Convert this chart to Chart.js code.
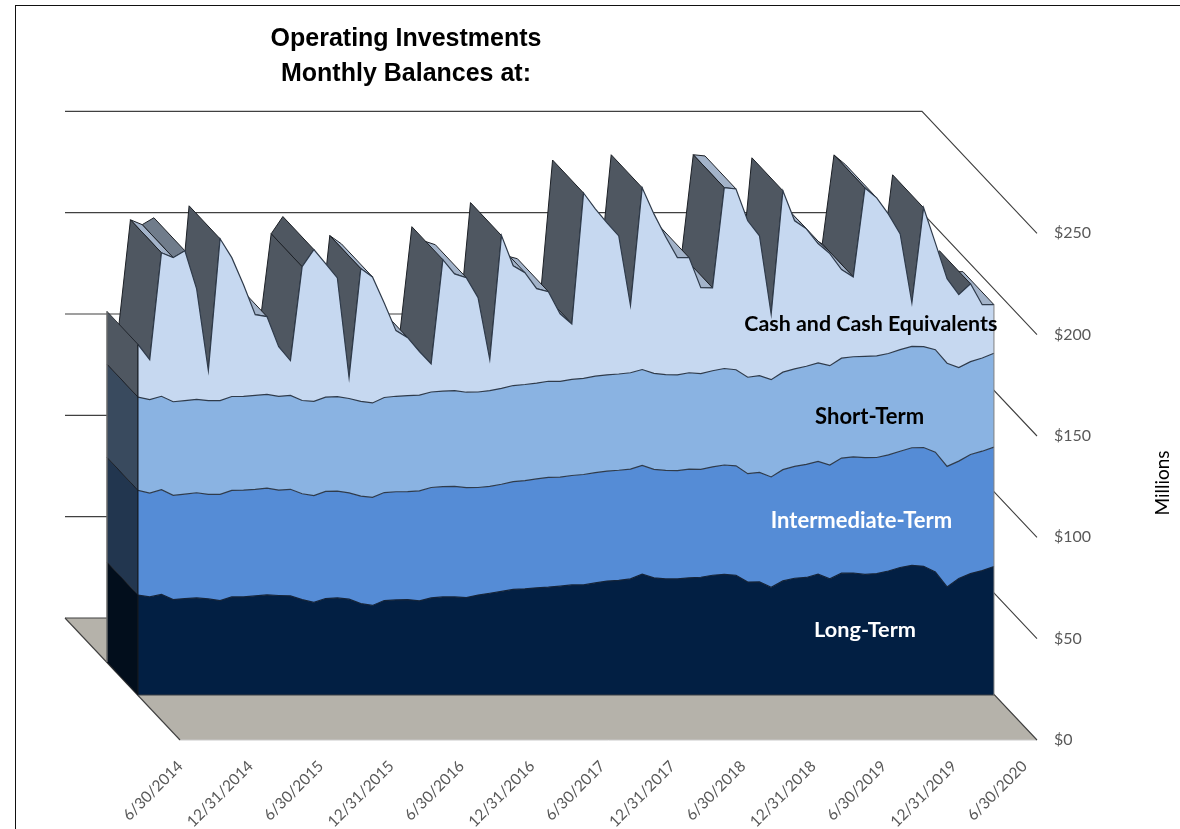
<!DOCTYPE html>
<html>
<head>
<meta charset="utf-8">
<script src="https://cdn.jsdelivr.net/npm/chart.js@4"></script>
<style>
html,body{margin:0;padding:0;background:#fff;width:1180px;height:829px;overflow:hidden}
canvas{position:absolute;left:0;top:0}
#frame{position:absolute;left:15px;top:5px;width:1170px;height:830px;border-left:1.5px solid #111;border-top:1.5px solid #111}
</style>
</head>
<body>
<canvas id="c" width="1180" height="829"></canvas>
<div id="frame"></div>
<script>
const titleLines = ['Operating Investments', 'Monthly Balances at:'];
const axisUnit = 'Millions';
const tickMonths = [1, 7, 13, 19, 25, 31, 37, 43, 49, 55, 61, 67, 73];
const tickLabels = ['6/30/2014','12/31/2014','6/30/2015','12/31/2015','6/30/2016','12/31/2016','6/30/2017','12/31/2017','6/30/2018','12/31/2018','6/30/2019','12/31/2019','6/30/2020'];
const seriesNames = ['Long-Term', 'Intermediate-Term', 'Short-Term', 'Cash and Cash Equivalents'];
const longTerm = [49.3,48.4,49.6,47.1,47.6,47.9,47.4,46.6,48.4,48.4,48.9,49.4,49.1,48.9,47.1,45.7,47.6,47.9,47.3,45.1,44.2,46.6,46.9,47.1,46.5,47.9,48.4,48.4,48.1,49.3,50.2,51.1,52.1,52.4,52.9,53.2,53.7,54.3,54.3,55.3,56.2,56.6,57.3,59.6,57.8,57.3,57.3,57.8,58.1,59.1,59.5,59.1,55.7,55.8,53.1,56.3,57.6,58.0,59.6,57.3,60.1,60.2,59.5,59.9,61.2,62.9,64.0,63.5,60.7,53.3,57.5,59.9,61.4,63.4];
const intermediateTerm = [51.7,51.2,51.7,51.4,51.5,51.9,51.6,52.4,52.6,52.7,52.6,52.7,52.0,52.6,52.2,52.7,52.9,52.7,52.4,53.0,53.3,53.3,53.4,53.3,54.2,54.5,54.4,54.5,54.2,53.1,52.7,52.9,53.2,53.4,53.7,54.2,53.8,54.0,54.5,54.4,54.3,54.3,54.2,53.7,53.5,53.5,53.4,53.7,53.2,53.5,54.0,54.0,53.5,54.0,54.5,54.9,55.2,55.8,55.7,56.2,56.8,57.3,57.6,57.3,57.3,57.4,58.0,58.6,59.1,59.5,57.9,58.8,58.9,58.9];
const shortTerm = [46.0,46.2,46.1,46.2,46.2,46.1,46.3,46.3,46.3,46.3,46.3,46.2,46.3,46.3,46.0,46.5,46.5,46.6,46.6,46.8,46.6,46.9,47.1,47.3,47.3,47.1,47.1,47.3,47.1,47.1,47.3,47.3,47.4,47.4,47.3,47.4,47.3,47.4,47.4,47.6,47.5,47.5,47.5,47.3,47.4,47.3,47.3,47.5,47.3,47.4,47.6,47.4,47.6,47.8,48.0,48.1,48.1,48.4,48.6,49.0,49.3,49.4,50.0,50.1,50.0,50.1,50.0,49.8,50.6,50.9,46.2,45.8,46.0,46.3];
const cashEquivalents = [26.0,19.7,70.8,71.1,73.9,54.5,14.8,79.8,68.5,55.0,39.9,38.4,24.5,17.2,66.0,74.9,65.9,58.6,10.3,65.5,62.2,46.6,32.4,28.6,21.5,13.9,64.9,57.6,56.5,46.6,15.3,75.4,59.1,55.2,46.6,44.2,33.3,27.4,91.5,82.6,75.0,68.1,33.2,89.7,78.7,68.0,57.8,56.8,42.4,40.9,89.2,89.2,77.2,69.0,32.2,89.5,73.1,67.8,58.8,55.3,43.7,39.4,83.1,78.0,68.8,57.1,21.5,68.5,52.7,41.7,36.0,38.4,26.3,24.0];
const labelAnchorMonth = [62, 61.7, 62.4, 62.5];
const labelAnchorValue = [32, 85.7, 137.4, 182.8];
const labelFontSizes = [21.7, 22, 22, 21.4];

const fillColors = ['#021f43', '#558cd6', '#8ab3e2', '#c6d8f0'];
const wallColors = ['#020e1c', '#22364f', '#394a5e', '#4f5761'];
const labelColors = ['#ffffff', '#ffffff', '#000000', '#000000'];
const DEPTH = {x: 31, y: 33};
const WALL = {x: 115, y: 122};
const FRONT = {x: 43};

const series = [longTerm, intermediateTerm, shortTerm, cashEquivalents];
const datasets = series.map((vals, k) => ({
  label: seriesNames[k],
  data: vals.map((v, i) => ({x: i, y: v})),
  xAxisID: 'x', yAxisID: 'y',
  backgroundColor: fillColors[k],
  borderColor: k === 0 ? '#14243a' : '#2f3b4b',
  borderWidth: 1.2,
  pointRadius: 0,
  tension: 0,
  fill: k === 0 ? 'origin' : '-1'
}));

function poly(ctx, pts, fill, stroke, w) {
  ctx.beginPath();
  pts.forEach((p, i) => i ? ctx.lineTo(p[0], p[1]) : ctx.moveTo(p[0], p[1]));
  ctx.closePath();
  if (fill) { ctx.fillStyle = fill; ctx.fill(); }
  if (stroke) { ctx.strokeStyle = stroke; ctx.lineWidth = w || 1; ctx.stroke(); }
}

const depthPlugin = {
  id: 'depth',
  afterLayout(chart) {
    const tb = chart.titleBlock;
    if (tb) { tb.left = 206; tb.right = 606; }
    const s = chart.scales.yUnit;
    s.left = 1147; s.right = 1177; s.top = 233; s.bottom = 733;
  },
  beforeDatasetsDraw(chart) {
    const {ctx, chartArea: a, scales} = chart;
    const y2 = scales.y2;
    const base = y2.getPixelForValue(0);
    const fl = a.left + FRONT.x - 1;
    ctx.save();
    // floor
    poly(ctx, [[fl - WALL.x, base - WALL.y], [a.right - WALL.x, base - WALL.y], [a.right, base], [fl, base]], '#b5b2aa');
    ctx.strokeStyle = '#c9c9c9'; ctx.lineWidth = 1;
    ctx.beginPath(); ctx.moveTo(fl, base); ctx.lineTo(a.right, base); ctx.stroke();
    ctx.strokeStyle = '#404040'; ctx.lineWidth = 1.1;
    ctx.beginPath(); ctx.moveTo(fl - WALL.x, base - WALL.y); ctx.lineTo(fl, base); ctx.stroke();
    // gridlines on back wall and right side
    y2.ticks.forEach(t => {
      const py = y2.getPixelForValue(t.value);
      ctx.beginPath();
      ctx.moveTo(a.right, py);
      ctx.lineTo(a.right - WALL.x, py - WALL.y);
      ctx.lineTo(fl - WALL.x, py - WALL.y);
      ctx.strokeStyle = '#404040'; ctx.lineWidth = 1.1; ctx.stroke();
    });
    // top faces of the cash series, painted from far (right) to near (left)
    const top = chart.getDatasetMeta(3).data;
    for (let i = top.length - 2; i >= 0; i--) {
      const p = top[i], q = top[i + 1];
      const dx = q.x - p.x, dy = q.y - p.y;
      if (-DEPTH.y * dx + DEPTH.x * dy >= 0) continue;
      const rise = -dy / dx;
      const col = rise >= 0.9 ? '#4f5761' : rise > 0.05 ? '#707c8b' : '#a3b3c9';
      poly(ctx, [[p.x, p.y], [q.x, q.y], [q.x - DEPTH.x, q.y - DEPTH.y], [p.x - DEPTH.x, p.y - DEPTH.y]], col, '#1b1f25', 1);
    }
    // left wall of the stack
    const y = scales.y;
    let prev = y.getPixelForValue(0);
    const x0 = chart.getDatasetMeta(0).data[0].x;
    series.forEach((_, k) => {
      const yy = chart.getDatasetMeta(k).data[0].y;
      poly(ctx, [[x0, prev], [x0, yy], [x0 - DEPTH.x, yy - DEPTH.y], [x0 - DEPTH.x, prev - DEPTH.y]], wallColors[k], '#15191f', 0.8);
      prev = yy;
    });
    ctx.strokeStyle = '#7f7f7f'; ctx.lineWidth = 1.2;
    ctx.beginPath(); ctx.moveTo(x0 - DEPTH.x, y.getPixelForValue(0) - DEPTH.y); ctx.lineTo(x0 - DEPTH.x, prev - DEPTH.y); ctx.stroke();
    ctx.restore();
  },
  afterDatasetsDraw(chart) {
    const {ctx, scales} = chart;
    const bottom = scales.y.getPixelForValue(0);
    const topPts = chart.getDatasetMeta(3).data;
    const L = topPts[0], R = topPts[topPts.length - 1];
    ctx.save();
    ctx.lineWidth = 1;
    ctx.strokeStyle = '#15191f';
    ctx.beginPath(); ctx.moveTo(L.x, bottom); ctx.lineTo(L.x, L.y); ctx.stroke();
    ctx.strokeStyle = '#3a3f45';
    ctx.beginPath(); ctx.moveTo(L.x, bottom); ctx.lineTo(R.x, bottom); ctx.stroke();
    ctx.strokeStyle = '#7f7f7f';
    ctx.beginPath(); ctx.moveTo(R.x, bottom); ctx.lineTo(R.x, R.y); ctx.stroke();
    ctx.textAlign = 'center'; ctx.textBaseline = 'middle';
    seriesNames.forEach((n, k) => {
      ctx.font = 'bold ' + labelFontSizes[k] + 'px Lato, sans-serif';
      ctx.fillStyle = labelColors[k];
      ctx.fillText(n, scales.x.getPixelForValue(labelAnchorMonth[k]), scales.y.getPixelForValue(labelAnchorValue[k]));
    });
    ctx.restore();
  }
};

const zeroPad = s => { s.paddingLeft = 0; s.paddingRight = 0; s.paddingTop = 0; s.paddingBottom = 0; };

new Chart(document.getElementById('c'), {
  type: 'line',
  data: {datasets},
  plugins: [depthPlugin],
  options: {
    responsive: false,
    animation: false,
    events: [],
    layout: {padding: {left: 118, right: 0, top: 0, bottom: 0}},
    plugins: {
      legend: {display: false},
      tooltip: {enabled: false},
      title: {
        display: true,
        text: titleLines,
        color: '#000',
        font: {family: 'Liberation Sans, Arial, sans-serif', size: 25, weight: 'bold', lineHeight: 1.4},
        padding: {top: 22, bottom: 40}
      }
    },
    scales: {
      x: {type: 'linear', display: false, min: 0, max: 76.67, grid: {display: false}},
      y: {type: 'linear', display: false, stacked: true, min: -22.2, max: 277.8, grid: {display: false}},
      xTicks: {
        type: 'linear', axis: 'x', position: 'bottom', min: -2.6, max: 74.07,
        grid: {display: false}, border: {display: false},
        afterBuildTicks: s => { s.ticks = tickMonths.map(v => ({value: v})); },
        afterFit: s => { s.height = 89; zeroPad(s); },
        ticks: {
          autoSkip: false, minRotation: 45, maxRotation: 45, padding: 9,
          color: '#595959', font: {family: 'Lato, sans-serif', size: 15.5},
          callback: v => tickLabels[tickMonths.indexOf(v)]
        }
      },
      y2: {
        type: 'linear', axis: 'y', position: 'right', min: 0, max: 300,
        grid: {display: false}, border: {display: false},
        afterBuildTicks: s => { s.ticks = s.ticks.filter(t => t.value <= 250); },
        afterFit: s => { s.width = 143; zeroPad(s); },
        ticks: {
          stepSize: 50, padding: 9, color: '#595959',
          font: {family: 'Lato, sans-serif', size: 16},
          callback: v => '$' + v
        }
      },
      yUnit: {
        type: 'linear', axis: 'y', position: 'left', min: 0, max: 1,
        grid: {display: false}, border: {display: false},
        ticks: {display: false},
        afterFit: s => { s.width = 20; zeroPad(s); },
        title: {display: true, text: axisUnit, color: '#000', font: {family: 'Lato, sans-serif', size: 19}, padding: {top: 4, bottom: 0}}
      }
    }
  }
});
</script>
</body>
</html>
